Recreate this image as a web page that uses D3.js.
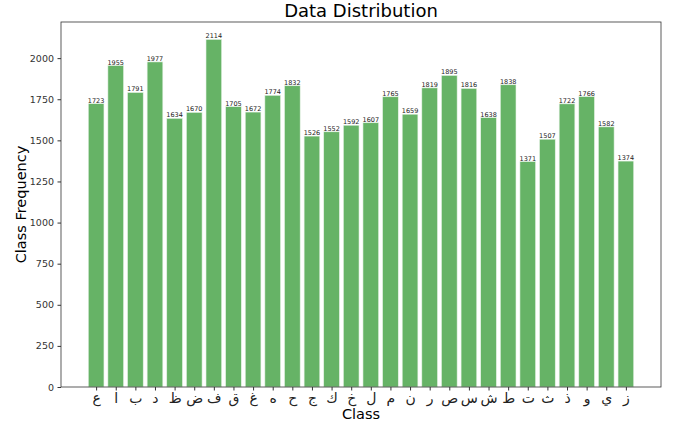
<!DOCTYPE html>
<html><head><meta charset="utf-8">
<script src="https://cdn.jsdelivr.net/npm/d3@7"></script>
<style>body{margin:0;background:#fff}svg{display:block;font-family:"DejaVu Sans",sans-serif}</style>
</head><body><svg id="c" width="687" height="421"></svg>
<script>
const categories = ["ع","ا","ب","د","ظ","ض","ف","ق","غ","ه","ح","ج","ك","خ","ل","م","ن","ر","ص","س","ش","ط","ت","ث","ذ","و","ي","ز"];
const counts = [1723,1955,1791,1977,1634,1670,2114,1705,1672,1774,1832,1526,1552,1592,1607,1765,1659,1819,1895,1816,1638,1838,1371,1507,1722,1766,1582,1374];
const yTicks = [0,250,500,750,1000,1250,1500,1750,2000];

const svg = d3.select("#c");
const L = 61, R = 661, T = 22, B = 387;
const n = categories.length;
const x = d3.scaleLinear().domain([-0.4 - 0.05*(n-0.2), n-1+0.4 + 0.05*(n-0.2)]).range([L, R]);
const y = d3.scaleLinear().domain([0, d3.max(counts)*1.05]).range([B, T]);

svg.append("text").attr("x", (L+R)/2).attr("y", 17).attr("text-anchor","middle")
  .attr("font-size", 18).attr("fill","#000").text("Data Distribution");

svg.selectAll("rect.bar").data(counts).join("rect").attr("class","bar")
  .attr("x",(d,i)=>x(i-0.4)).attr("width",x(0.8)-x(0))
  .attr("y",d=>y(d)).attr("height",d=>B-y(d))
  .attr("fill","#66b366").attr("stroke","#e8f3e8").attr("stroke-width",0.6);

svg.selectAll("text.val").data(counts).join("text").attr("class","val")
  .attr("x",(d,i)=>x(i)).attr("y",d=>y(d)-1).attr("text-anchor","middle")
  .attr("font-size",6.5).attr("fill","#222").text(d=>d);

const yAxis = svg.append("g").attr("transform",`translate(${L},0)`)
  .call(d3.axisLeft(y).tickValues(yTicks).tickFormat(d3.format("d")).tickSize(3.5).tickPadding(3.5));
yAxis.selectAll("text").attr("font-size",9.5).attr("fill","#333").attr("font-family","DejaVu Sans");
yAxis.select(".domain").remove();

const xAxis = svg.append("g").attr("transform",`translate(0,${B})`)
  .call(d3.axisBottom(x).tickValues(d3.range(n)).tickFormat(i=>categories[i]).tickSize(3.5).tickPadding(3));
xAxis.selectAll("text").attr("font-size",14).attr("fill","#222").attr("font-family","DejaVu Sans");
xAxis.select(".domain").remove();
svg.selectAll(".tick line").attr("stroke","#333");

svg.append("rect").attr("x",L).attr("y",T).attr("width",R-L).attr("height",B-T)
  .attr("fill","none").attr("stroke","#333").attr("stroke-width",0.8);

svg.append("text").attr("x",(L+R)/2).attr("y",419).attr("text-anchor","middle")
  .attr("font-size",14.5).attr("fill","#000").text("Class");
svg.append("text").attr("transform",`translate(26,${(T+B)/2}) rotate(-90)`).attr("text-anchor","middle")
  .attr("font-size",14.5).attr("fill","#000").text("Class Frequency");
</script></body></html>
